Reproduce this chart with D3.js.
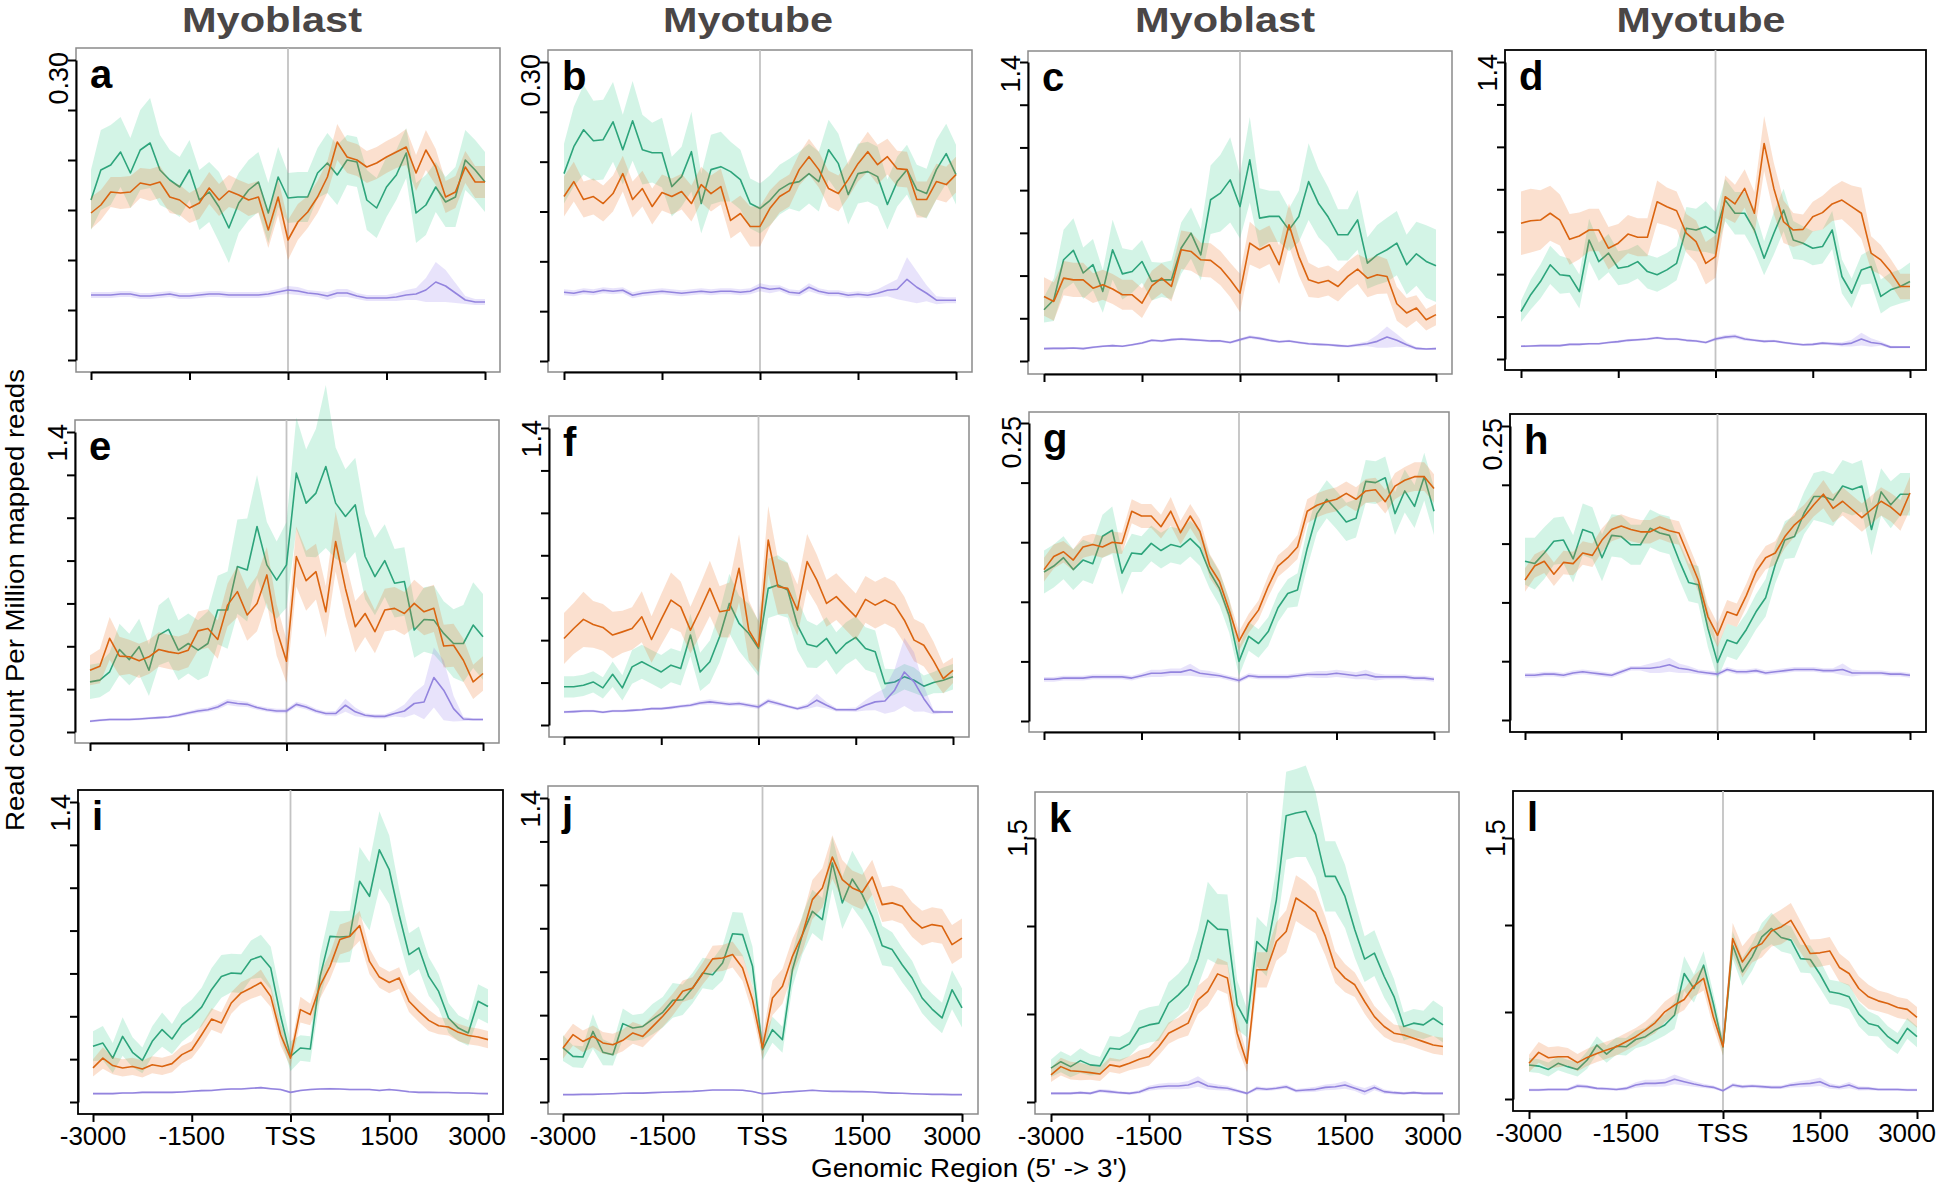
<!DOCTYPE html>
<html><head><meta charset="utf-8">
<script src="https://cdn.jsdelivr.net/npm/d3@7"></script>
<style>body{margin:0;background:#fff}svg{display:block}text{font-family:"Liberation Sans",Arial,Helvetica,sans-serif}</style>
</head><body><svg id="chart" width="1941" height="1186"></svg>
<script>
// ---------- DATA ----------
const positions = d3.range(-3000, 3001, 150); // 41 bins
const xTickValues = [-3000, -1500, 0, 1500, 3000];
const xTickLabels = ["-3000", "-1500", "TSS", "1500", "3000"];
const columnTitles = ["Myoblast", "Myotube", "Myoblast", "Myotube"];
const panelLetters = ["a","b","c","d","e","f","g","h","i","j","k","l"];
const yTopTicks = [0.30, 0.30, 1.4, 1.4, 1.4, 1.4, 0.25, 0.25, 1.4, 1.4, 1.5, 1.5];
const yTopLabels = ["0.30","0.30","1.4","1.4","1.4","1.4","0.25","0.25","1.4","1.4","1.5","1.5"];
const yTickSteps = [0.05, 0.05, 0.2, 0.2, 0.2, 0.2, 0.05, 0.05, 0.2, 0.2, 0.5, 0.5];

const a_green = [0.160,0.190,0.195,0.208,0.187,0.210,0.217,0.190,0.180,0.173,0.190,0.160,0.168,0.153,0.132,0.157,0.170,0.178,0.147,0.183,0.162,0.163,0.163,0.187,0.197,0.185,0.200,0.198,0.160,0.152,0.173,0.185,0.207,0.147,0.155,0.173,0.158,0.163,0.200,0.190,0.178];
const a_green_err = [.030,.040,.040,.035,.035,.040,.045,.035,.030,.030,.030,.030,.030,.035,.035,.030,.030,.030,.030,.030,.025,.025,.025,.025,.030,.030,.025,.025,.030,.030,.030,.025,.025,.030,.030,.025,.025,.030,.030,.030,.030];
const a_orange = [0.147,0.155,0.168,0.167,0.168,0.177,0.175,0.178,0.163,0.160,0.152,0.157,0.172,0.160,0.169,0.165,0.160,0.163,0.130,0.163,0.120,0.138,0.148,0.163,0.183,0.218,0.203,0.200,0.193,0.197,0.203,0.208,0.213,0.187,0.210,0.193,0.163,0.168,0.193,0.178,0.178];
const a_orange_err = [.016,.015,.015,.016,.016,.015,.016,.016,.016,.015,.015,.016,.016,.016,.016,.015,.016,.016,.018,.018,.020,.018,.016,.016,.016,.018,.016,.016,.016,.016,.016,.016,.018,.018,.020,.018,.016,.016,.016,.016,.016];
const a_purple = [0.065,0.065,0.065,0.066,0.066,0.064,0.064,0.065,0.066,0.064,0.064,0.065,0.066,0.066,0.065,0.065,0.065,0.065,0.066,0.068,0.070,0.069,0.067,0.066,0.064,0.067,0.067,0.064,0.062,0.062,0.062,0.063,0.065,0.066,0.070,0.078,0.074,0.067,0.060,0.058,0.058];
const a_purple_err = [.003,.003,.003,.003,.003,.003,.003,.003,.003,.003,.003,.003,.003,.003,.003,.003,.003,.003,.003,.003,.004,.004,.003,.003,.004,.004,.004,.003,.003,.003,.003,.004,.005,.006,.012,.020,.016,.010,.004,.003,.003];

const b_green = [0.188,0.215,0.232,0.221,0.222,0.240,0.212,0.241,0.212,0.209,0.209,0.175,0.185,0.210,0.158,0.192,0.195,0.190,0.182,0.158,0.153,0.161,0.172,0.178,0.180,0.188,0.180,0.212,0.198,0.167,0.188,0.190,0.185,0.157,0.180,0.192,0.172,0.168,0.192,0.208,0.187];
const b_green_err = [.030,.040,.045,.040,.040,.040,.035,.040,.035,.030,.035,.030,.030,.040,.030,.035,.035,.030,.030,.025,.025,.025,.025,.025,.030,.030,.030,.030,.030,.030,.030,.030,.030,.025,.025,.025,.025,.025,.030,.030,.030];
const b_orange = [0.165,0.180,0.162,0.165,0.158,0.168,0.188,0.162,0.173,0.155,0.169,0.165,0.170,0.158,0.177,0.168,0.175,0.141,0.148,0.135,0.135,0.153,0.165,0.171,0.192,0.205,0.192,0.173,0.168,0.182,0.198,0.210,0.197,0.205,0.193,0.192,0.162,0.162,0.180,0.177,0.187];
const b_orange_err = [.020,.020,.018,.018,.018,.018,.018,.018,.018,.018,.018,.018,.018,.018,.018,.018,.018,.018,.018,.020,.020,.018,.016,.016,.016,.018,.018,.018,.018,.018,.018,.020,.020,.018,.018,.018,.018,.018,.018,.018,.018];
const b_purple = [0.069,0.068,0.070,0.069,0.071,0.070,0.071,0.066,0.068,0.069,0.070,0.069,0.068,0.069,0.070,0.069,0.070,0.070,0.069,0.070,0.074,0.072,0.073,0.069,0.068,0.074,0.070,0.068,0.068,0.066,0.067,0.066,0.068,0.071,0.072,0.082,0.074,0.068,0.061,0.061,0.061];
const b_purple_err = [.003,.003,.003,.003,.003,.003,.003,.003,.003,.003,.003,.003,.003,.003,.003,.003,.003,.003,.003,.003,.004,.004,.003,.003,.003,.004,.003,.003,.003,.003,.003,.003,.004,.006,.010,.022,.016,.008,.004,.003,.003];

const c_green = [0.240,0.287,0.474,0.518,0.412,0.451,0.326,0.521,0.408,0.419,0.466,0.373,0.380,0.380,0.529,0.599,0.497,0.755,0.786,0.848,0.723,0.942,0.669,0.677,0.677,0.614,0.677,0.840,0.739,0.674,0.591,0.591,0.661,0.458,0.497,0.521,0.552,0.451,0.502,0.466,0.446];
const c_green_err = [.06,.10,.14,.15,.12,.12,.10,.14,.12,.10,.10,.09,.08,.09,.12,.12,.12,.16,.18,.20,.15,.20,.14,.12,.12,.10,.12,.18,.16,.14,.12,.12,.14,.12,.14,.15,.15,.14,.15,.17,.17];
const c_orange = [0.302,0.279,0.388,0.380,0.380,0.341,0.357,0.337,0.310,0.310,0.271,0.352,0.388,0.349,0.521,0.513,0.474,0.471,0.435,0.380,0.318,0.552,0.521,0.544,0.451,0.638,0.490,0.380,0.365,0.377,0.349,0.396,0.430,0.388,0.404,0.396,0.268,0.225,0.248,0.193,0.217];
const c_orange_err = [.09,.09,.08,.08,.08,.07,.07,.07,.07,.07,.07,.07,.07,.07,.09,.09,.08,.08,.08,.08,.09,.10,.09,.09,.09,.10,.09,.08,.07,.07,.07,.07,.07,.09,.09,.08,.08,.07,.06,.05,.05];
const c_purple = [0.058,0.059,0.059,0.061,0.058,0.064,0.069,0.072,0.069,0.076,0.084,0.097,0.094,0.100,0.103,0.100,0.097,0.094,0.094,0.087,0.100,0.112,0.106,0.097,0.090,0.094,0.087,0.081,0.078,0.076,0.072,0.069,0.075,0.081,0.092,0.112,0.097,0.076,0.059,0.056,0.058];
const c_purple_err = [.005,.005,.005,.005,.005,.005,.005,.005,.005,.005,.006,.006,.006,.006,.006,.006,.006,.006,.006,.006,.007,.008,.008,.007,.006,.006,.006,.006,.006,.006,.006,.006,.008,.012,.030,.050,.030,.012,.006,.005,.005];

const d_green = [0.224,0.303,0.365,0.444,0.397,0.392,0.318,0.561,0.459,0.499,0.428,0.436,0.459,0.412,0.397,0.420,0.451,0.616,0.608,0.624,0.593,0.749,0.687,0.687,0.608,0.475,0.593,0.702,0.561,0.546,0.522,0.530,0.608,0.389,0.310,0.420,0.436,0.295,0.326,0.342,0.365];
const d_green_err = [.05,.07,.08,.09,.09,.08,.08,.10,.09,.09,.08,.08,.08,.08,.08,.08,.08,.10,.10,.12,.10,.10,.10,.10,.10,.08,.10,.10,.09,.08,.08,.08,.09,.08,.07,.07,.08,.08,.08,.08,.09];
const d_orange = [0.640,0.652,0.655,0.687,0.655,0.564,0.580,0.608,0.608,0.522,0.546,0.589,0.574,0.574,0.741,0.718,0.699,0.593,0.553,0.451,0.483,0.765,0.731,0.804,0.687,1.016,0.804,0.647,0.608,0.611,0.671,0.690,0.731,0.749,0.718,0.687,0.499,0.467,0.412,0.342,0.342];
const d_orange_err = [.15,.15,.14,.13,.12,.12,.11,.10,.10,.10,.09,.09,.09,.09,.10,.09,.09,.09,.10,.10,.10,.10,.09,.09,.10,.13,.12,.10,.08,.07,.07,.08,.08,.09,.10,.12,.08,.07,.06,.06,.06];
const d_purple = [0.060,0.061,0.063,0.063,0.063,0.069,0.069,0.072,0.072,0.078,0.082,0.088,0.091,0.094,0.100,0.094,0.094,0.088,0.085,0.078,0.094,0.103,0.107,0.094,0.088,0.083,0.085,0.078,0.072,0.067,0.069,0.075,0.072,0.069,0.075,0.094,0.078,0.072,0.056,0.056,0.056];
const d_purple_err = [.005,.005,.005,.005,.005,.005,.005,.005,.005,.005,.006,.006,.006,.006,.006,.006,.006,.006,.006,.006,.008,.010,.010,.008,.006,.006,.006,.006,.006,.006,.006,.006,.008,.010,.016,.030,.020,.010,.006,.005,.005];

const e_green = [0.234,0.242,0.281,0.385,0.338,0.398,0.288,0.452,0.479,0.382,0.413,0.382,0.413,0.569,0.569,0.772,0.756,0.959,0.780,0.709,0.780,1.208,1.068,1.115,1.239,1.068,1.006,1.060,0.819,0.725,0.800,0.694,0.702,0.476,0.525,0.522,0.460,0.413,0.413,0.499,0.444];
const e_green_err = [.08,.08,.09,.12,.12,.13,.12,.14,.15,.14,.14,.14,.15,.16,.18,.22,.24,.24,.20,.18,.20,.26,.25,.30,.38,.26,.22,.22,.20,.18,.17,.16,.16,.13,.15,.16,.15,.16,.18,.20,.20];
const e_orange = [0.288,0.307,0.437,0.354,0.351,0.332,0.351,0.385,0.374,0.366,0.382,0.472,0.483,0.432,0.592,0.655,0.546,0.600,0.733,0.476,0.330,0.819,0.706,0.748,0.561,0.889,0.670,0.491,0.553,0.468,0.569,0.577,0.553,0.600,0.561,0.577,0.401,0.405,0.335,0.234,0.273];
const e_orange_err = [.07,.08,.10,.09,.08,.08,.08,.08,.08,.08,.08,.09,.09,.09,.10,.12,.12,.13,.13,.12,.10,.14,.14,.13,.12,.14,.13,.12,.11,.10,.10,.10,.10,.11,.11,.11,.10,.10,.10,.08,.08];
const e_purple = [0.050,0.055,0.058,0.058,0.058,0.061,0.064,0.067,0.070,0.078,0.089,0.098,0.104,0.117,0.140,0.133,0.129,0.114,0.104,0.098,0.098,0.129,0.117,0.098,0.086,0.086,0.125,0.094,0.078,0.073,0.073,0.086,0.098,0.133,0.140,0.254,0.195,0.109,0.061,0.058,0.058];
const e_purple_err = [.006,.006,.006,.006,.006,.006,.006,.006,.006,.008,.008,.010,.010,.012,.014,.014,.012,.010,.010,.010,.010,.012,.012,.010,.010,.012,.030,.020,.010,.010,.010,.014,.030,.050,.080,.140,.140,.060,.010,.006,.006];

const f_green = [0.180,0.180,0.187,0.203,0.175,0.239,0.175,0.274,0.298,0.274,0.250,0.282,0.266,0.424,0.250,0.298,0.416,0.573,0.479,0.431,0.361,0.644,0.660,0.636,0.471,0.381,0.369,0.408,0.337,0.384,0.413,0.361,0.345,0.195,0.203,0.227,0.211,0.183,0.200,0.211,0.227];
const f_green_err = [.05,.05,.05,.05,.05,.06,.06,.08,.08,.08,.08,.08,.08,.10,.09,.10,.12,.14,.13,.14,.13,.14,.14,.13,.12,.11,.10,.10,.10,.10,.10,.10,.10,.07,.06,.06,.06,.05,.05,.06,.06];
const f_orange = [0.408,0.455,0.498,0.474,0.460,0.424,0.439,0.455,0.510,0.403,0.498,0.589,0.557,0.447,0.542,0.644,0.534,0.542,0.739,0.447,0.369,0.872,0.652,0.644,0.542,0.770,0.683,0.573,0.605,0.557,0.510,0.592,0.565,0.589,0.565,0.494,0.400,0.376,0.302,0.219,0.258];
const f_orange_err = [.12,.12,.13,.11,.11,.11,.10,.10,.12,.11,.12,.13,.12,.11,.12,.13,.12,.13,.16,.14,.12,.16,.13,.12,.12,.13,.12,.11,.11,.11,.11,.11,.11,.11,.11,.11,.10,.10,.09,.07,.06];
const f_purple = [0.061,0.063,0.066,0.066,0.060,0.066,0.066,0.069,0.072,0.077,0.077,0.082,0.088,0.093,0.104,0.109,0.104,0.098,0.101,0.093,0.085,0.113,0.101,0.088,0.077,0.088,0.117,0.093,0.072,0.072,0.072,0.093,0.109,0.113,0.164,0.250,0.203,0.124,0.061,0.061,0.061];
const f_purple_err = [.006,.006,.006,.006,.006,.006,.006,.006,.006,.006,.006,.008,.008,.008,.010,.012,.010,.010,.010,.010,.010,.012,.010,.008,.008,.012,.030,.015,.008,.008,.010,.025,.040,.060,.100,.160,.140,.060,.010,.006,.006];

const g_green = [0.125,0.130,0.137,0.127,0.135,0.132,0.155,0.160,0.124,0.141,0.140,0.149,0.143,0.148,0.146,0.153,0.145,0.125,0.111,0.088,0.050,0.071,0.065,0.075,0.095,0.107,0.110,0.145,0.174,0.186,0.177,0.167,0.170,0.201,0.200,0.204,0.174,0.193,0.180,0.205,0.176];
const g_green_err = [.018,.018,.018,.017,.017,.017,.018,.020,.018,.016,.015,.015,.015,.015,.015,.015,.015,.014,.014,.014,.012,.012,.012,.012,.012,.012,.014,.016,.016,.016,.016,.016,.016,.018,.018,.018,.018,.018,.018,.020,.020];
const g_orange = [0.127,0.138,0.142,0.135,0.146,0.148,0.146,0.150,0.149,0.176,0.172,0.172,0.163,0.176,0.158,0.172,0.159,0.130,0.117,0.093,0.067,0.082,0.093,0.113,0.130,0.137,0.146,0.176,0.181,0.184,0.186,0.191,0.186,0.193,0.194,0.184,0.197,0.202,0.205,0.205,0.195];
const g_orange_err = [.010,.010,.009,.009,.009,.009,.009,.009,.009,.010,.010,.010,.010,.012,.010,.010,.010,.010,.009,.009,.008,.008,.008,.009,.009,.009,.010,.010,.010,.010,.010,.010,.010,.010,.010,.010,.011,.011,.012,.012,.012];
const g_purple = [0.035,0.035,0.036,0.036,0.036,0.037,0.037,0.037,0.037,0.036,0.038,0.040,0.040,0.041,0.041,0.043,0.040,0.039,0.038,0.036,0.034,0.038,0.037,0.037,0.037,0.037,0.038,0.039,0.039,0.039,0.040,0.039,0.038,0.039,0.037,0.037,0.037,0.037,0.036,0.036,0.035];
const g_purple_err = [.002,.002,.002,.002,.002,.002,.002,.002,.002,.002,.002,.003,.003,.003,.003,.005,.003,.003,.002,.002,.002,.002,.002,.002,.002,.002,.002,.002,.003,.003,.003,.003,.003,.004,.003,.002,.002,.002,.002,.002,.002];

const h_green = [0.135,0.133,0.142,0.152,0.153,0.137,0.162,0.159,0.138,0.157,0.156,0.149,0.149,0.163,0.159,0.157,0.136,0.117,0.115,0.078,0.049,0.068,0.065,0.077,0.092,0.104,0.132,0.153,0.156,0.176,0.190,0.190,0.187,0.199,0.196,0.199,0.162,0.194,0.183,0.192,0.192];
const h_green_err = [.020,.022,.022,.020,.020,.020,.022,.022,.020,.018,.018,.017,.017,.016,.016,.016,.016,.016,.016,.016,.014,.014,.014,.014,.015,.016,.016,.016,.018,.018,.020,.022,.022,.022,.022,.022,.022,.020,.020,.018,.018];
const h_orange = [0.119,0.131,0.135,0.124,0.134,0.133,0.142,0.140,0.153,0.162,0.165,0.162,0.160,0.160,0.164,0.161,0.159,0.139,0.119,0.088,0.072,0.092,0.089,0.106,0.126,0.138,0.142,0.156,0.166,0.173,0.183,0.192,0.180,0.186,0.179,0.172,0.179,0.186,0.181,0.174,0.193];
const h_orange_err = [.010,.010,.010,.010,.010,.010,.010,.010,.010,.010,.010,.010,.010,.010,.010,.010,.010,.010,.010,.010,.010,.010,.010,.010,.010,.010,.010,.010,.010,.010,.010,.012,.012,.012,.012,.012,.012,.012,.012,.013,.014];
const h_purple = [0.038,0.038,0.039,0.039,0.038,0.040,0.041,0.040,0.039,0.038,0.041,0.044,0.044,0.044,0.045,0.047,0.044,0.043,0.041,0.040,0.039,0.043,0.041,0.041,0.042,0.040,0.041,0.042,0.043,0.043,0.043,0.042,0.042,0.043,0.040,0.040,0.040,0.040,0.039,0.039,0.038];
const h_purple_err = [.002,.002,.002,.002,.002,.002,.002,.002,.002,.002,.002,.002,.002,.004,.005,.006,.004,.003,.002,.002,.002,.002,.002,.002,.002,.002,.002,.002,.002,.002,.002,.002,.002,.005,.003,.002,.002,.002,.002,.002,.002];

const i_green = [0.260,0.275,0.205,0.306,0.232,0.194,0.283,0.338,0.294,0.361,0.397,0.443,0.524,0.586,0.602,0.599,0.664,0.680,0.625,0.400,0.213,0.252,0.247,0.586,0.773,0.770,0.773,1.030,0.960,1.177,1.084,0.874,0.688,0.719,0.586,0.516,0.392,0.345,0.322,0.470,0.446];
const i_green_err = [.07,.08,.07,.09,.07,.06,.07,.08,.07,.08,.08,.09,.10,.10,.09,.09,.09,.10,.10,.10,.07,.06,.06,.10,.12,.12,.12,.16,.16,.18,.16,.12,.10,.10,.09,.08,.07,.06,.06,.08,.08];
const i_orange = [0.159,0.205,0.170,0.159,0.166,0.154,0.174,0.166,0.179,0.221,0.244,0.314,0.387,0.369,0.462,0.509,0.532,0.558,0.493,0.314,0.205,0.431,0.408,0.543,0.633,0.758,0.773,0.823,0.656,0.583,0.558,0.579,0.470,0.423,0.381,0.356,0.350,0.325,0.310,0.303,0.291];
const i_orange_err = [.04,.05,.04,.04,.04,.04,.04,.04,.04,.04,.04,.05,.05,.05,.05,.05,.05,.06,.05,.05,.04,.06,.05,.06,.06,.07,.07,.07,.06,.05,.05,.05,.05,.05,.05,.04,.04,.04,.04,.04,.04];
const i_purple = [0.039,0.039,0.039,0.042,0.042,0.045,0.045,0.045,0.045,0.047,0.050,0.053,0.054,0.058,0.061,0.061,0.064,0.067,0.062,0.058,0.045,0.054,0.058,0.061,0.062,0.061,0.058,0.058,0.058,0.054,0.058,0.054,0.048,0.045,0.045,0.044,0.044,0.042,0.042,0.040,0.039];
const i_purple_err = [.004,.004,.004,.004,.004,.004,.004,.004,.004,.004,.004,.004,.004,.004,.004,.004,.004,.004,.004,.004,.004,.004,.004,.004,.004,.004,.004,.004,.004,.004,.004,.004,.004,.004,.004,.004,.004,.004,.004,.004,.004];

const j_green = [0.249,0.210,0.207,0.325,0.229,0.218,0.361,0.341,0.348,0.382,0.413,0.468,0.471,0.525,0.594,0.586,0.640,0.775,0.771,0.625,0.241,0.333,0.287,0.609,0.771,0.878,0.840,1.101,0.917,1.027,0.955,0.855,0.720,0.702,0.632,0.571,0.479,0.428,0.387,0.517,0.433];
const j_green_err = [.06,.05,.05,.08,.06,.05,.07,.06,.06,.07,.07,.08,.07,.07,.07,.07,.08,.10,.10,.09,.05,.06,.06,.08,.09,.10,.10,.12,.12,.13,.12,.10,.09,.08,.08,.08,.07,.07,.07,.09,.09];
const j_orange = [0.249,0.310,0.279,0.302,0.272,0.264,0.284,0.318,0.302,0.348,0.395,0.448,0.510,0.525,0.591,0.659,0.663,0.679,0.617,0.471,0.249,0.479,0.533,0.671,0.771,0.932,0.986,1.128,1.024,0.986,0.966,1.036,0.909,0.917,0.901,0.840,0.801,0.817,0.809,0.725,0.755];
const j_orange_err = [.05,.05,.05,.05,.05,.05,.05,.05,.05,.05,.05,.05,.05,.05,.05,.06,.06,.06,.06,.06,.05,.08,.08,.08,.08,.09,.09,.10,.09,.08,.08,.08,.08,.08,.08,.08,.08,.08,.08,.09,.09];
const j_purple = [0.034,0.034,0.035,0.035,0.037,0.038,0.040,0.041,0.041,0.043,0.045,0.046,0.048,0.049,0.052,0.055,0.055,0.055,0.054,0.048,0.038,0.041,0.045,0.048,0.051,0.054,0.051,0.049,0.049,0.048,0.048,0.046,0.043,0.041,0.040,0.038,0.037,0.035,0.035,0.034,0.034];
const j_purple_err = [.003,.003,.003,.003,.003,.003,.003,.003,.003,.003,.003,.003,.003,.003,.003,.003,.003,.003,.003,.003,.003,.003,.003,.003,.003,.003,.003,.003,.003,.003,.003,.003,.003,.003,.003,.003,.003,.003,.003,.003,.003];

const k_green = [0.192,0.229,0.201,0.235,0.211,0.205,0.305,0.300,0.330,0.419,0.438,0.448,0.561,0.609,0.666,0.817,1.032,0.982,0.979,0.552,0.448,0.912,0.855,1.149,1.627,1.642,1.652,1.519,1.282,1.282,1.168,0.979,0.812,0.846,0.713,0.599,0.429,0.448,0.438,0.476,0.438];
const k_green_err = [.05,.06,.06,.07,.06,.05,.07,.07,.07,.10,.10,.10,.12,.12,.13,.16,.22,.20,.20,.14,.08,.14,.14,.18,.25,.25,.26,.24,.20,.20,.18,.16,.13,.13,.12,.10,.08,.08,.08,.10,.10];
const k_orange = [0.154,0.201,0.178,0.173,0.167,0.159,0.211,0.201,0.220,0.243,0.258,0.315,0.391,0.419,0.448,0.580,0.628,0.728,0.704,0.391,0.220,0.751,0.751,0.912,0.969,1.159,1.121,1.077,0.941,0.766,0.704,0.666,0.571,0.485,0.429,0.391,0.381,0.362,0.343,0.324,0.315];
const k_orange_err = [.04,.05,.05,.05,.04,.04,.04,.04,.04,.05,.05,.05,.06,.06,.07,.08,.08,.09,.09,.08,.05,.10,.10,.11,.12,.13,.13,.12,.11,.09,.08,.07,.07,.06,.06,.05,.05,.05,.05,.05,.05];
const k_purple = [0.049,0.049,0.049,0.053,0.049,0.064,0.059,0.053,0.049,0.057,0.078,0.087,0.091,0.091,0.097,0.116,0.091,0.083,0.078,0.064,0.049,0.078,0.072,0.078,0.087,0.064,0.068,0.072,0.083,0.087,0.097,0.078,0.059,0.083,0.059,0.053,0.049,0.053,0.049,0.049,0.049];
const k_purple_err = [.008,.008,.008,.008,.008,.010,.010,.008,.008,.010,.014,.016,.018,.018,.022,.030,.020,.016,.014,.010,.008,.012,.010,.010,.012,.010,.012,.014,.016,.018,.022,.016,.020,.016,.012,.010,.008,.008,.008,.008,.008];

const l_green = [0.195,0.189,0.170,0.205,0.186,0.170,0.224,0.310,0.258,0.304,0.300,0.342,0.358,0.396,0.425,0.482,0.721,0.635,0.769,0.549,0.300,0.884,0.731,0.817,0.932,0.980,0.928,0.913,0.807,0.802,0.717,0.616,0.606,0.587,0.488,0.434,0.419,0.358,0.319,0.406,0.358];
const l_green_err = [.04,.04,.04,.04,.04,.04,.05,.05,.05,.05,.05,.05,.05,.06,.06,.08,.10,.08,.08,.06,.05,.08,.08,.08,.08,.09,.08,.08,.08,.08,.08,.07,.07,.07,.07,.07,.06,.06,.06,.06,.06];
const l_orange = [0.205,0.268,0.237,0.243,0.243,0.209,0.239,0.262,0.281,0.300,0.329,0.358,0.396,0.438,0.501,0.540,0.572,0.649,0.693,0.473,0.300,0.922,0.788,0.865,0.893,0.966,0.989,1.027,0.932,0.836,0.840,0.851,0.756,0.721,0.635,0.587,0.564,0.549,0.526,0.515,0.469];
const l_orange_err = [.05,.06,.06,.06,.05,.05,.05,.05,.05,.05,.05,.05,.05,.06,.06,.06,.06,.06,.07,.06,.05,.09,.09,.08,.08,.09,.10,.10,.09,.08,.08,.08,.08,.07,.07,.07,.06,.06,.06,.06,.06];
const l_purple = [0.052,0.052,0.055,0.055,0.055,0.075,0.071,0.061,0.059,0.055,0.061,0.080,0.090,0.090,0.094,0.113,0.099,0.086,0.075,0.067,0.048,0.080,0.071,0.075,0.071,0.067,0.067,0.080,0.086,0.090,0.099,0.075,0.067,0.080,0.061,0.061,0.055,0.055,0.055,0.052,0.052];
const l_purple_err = [.008,.008,.008,.008,.008,.012,.010,.008,.008,.008,.010,.016,.020,.020,.022,.028,.022,.016,.012,.010,.008,.012,.010,.010,.010,.010,.010,.014,.018,.020,.024,.016,.012,.018,.012,.010,.008,.008,.008,.008,.008];

const seriesByPanel = [
  [[a_green,a_green_err],[a_orange,a_orange_err],[a_purple,a_purple_err]],
  [[b_green,b_green_err],[b_orange,b_orange_err],[b_purple,b_purple_err]],
  [[c_green,c_green_err],[c_orange,c_orange_err],[c_purple,c_purple_err]],
  [[d_green,d_green_err],[d_orange,d_orange_err],[d_purple,d_purple_err]],
  [[e_green,e_green_err],[e_orange,e_orange_err],[e_purple,e_purple_err]],
  [[f_green,f_green_err],[f_orange,f_orange_err],[f_purple,f_purple_err]],
  [[g_green,g_green_err],[g_orange,g_orange_err],[g_purple,g_purple_err]],
  [[h_green,h_green_err],[h_orange,h_orange_err],[h_purple,h_purple_err]],
  [[i_green,i_green_err],[i_orange,i_orange_err],[i_purple,i_purple_err]],
  [[j_green,j_green_err],[j_orange,j_orange_err],[j_purple,j_purple_err]],
  [[k_green,k_green_err],[k_orange,k_orange_err],[k_purple,k_purple_err]],
  [[l_green,l_green_err],[l_orange,l_orange_err],[l_purple,l_purple_err]]
];

// ---------- LAYOUT (pixels) ----------
const layout = [
  {box:[76,48,500,372],   xr:[91,485],    yr:[360,60],   border:"#8a8a8a"},
  {box:[548,50,972,372],  xr:[564,956],   yr:[361,62],   border:"#8a8a8a"},
  {box:[1028,51,1452,374],xr:[1044,1436], yr:[361,62],   border:"#8a8a8a"},
  {box:[1505,50,1926,370],xr:[1521,1910], yr:[359,62],   border:"#000"},
  {box:[75,420,499,743],  xr:[90,483],    yr:[732,432],  border:"#8a8a8a"},
  {box:[549,416,969,737], xr:[564,953],   yr:[725,428],  border:"#8a8a8a"},
  {box:[1029,412,1449,732],xr:[1044,1434],yr:[721,423],  border:"#8a8a8a"},
  {box:[1510,414,1926,732],xr:[1525,1910],yr:[720,426],  border:"#000"},
  {box:[78,790,503,1114], xr:[93,488],    yr:[1102,802], border:"#000"},
  {box:[548,786,978,1114],xr:[563,962],   yr:[1102,798], border:"#8a8a8a"},
  {box:[1035,792,1459,1114],xr:[1051,1443],yr:[1102,838],border:"#8a8a8a"},
  {box:[1513,791,1933,1111],xr:[1529,1917],yr:[1099,838],border:"#000"}
];
const titlePos = [{x:272,w:180},{x:748,w:170},{x:1225,w:180},{x:1701,w:169}];

const COLORS = [
  {line:"#2da47b", band:"rgba(55,205,140,0.22)"},
  {line:"#da6410", band:"rgba(235,115,35,0.22)"},
  {line:"#9384de", band:"rgba(120,90,230,0.17)"}
];

// ---------- DRAW ----------
const svg = d3.select("#chart");
svg.append("rect").attr("width",1941).attr("height",1186).attr("fill","#fff");

layout.forEach((L, pi) => {
  const [bx0, by0, bx1, by1] = L.box;
  const x = d3.scaleLinear().domain([-3000, 3000]).range(L.xr);
  const y = d3.scaleLinear().domain([0, yTopTicks[pi]]).range(L.yr);
  const g = svg.append("g");

  g.append("rect").attr("x", bx0).attr("y", by0).attr("width", bx1 - bx0).attr("height", by1 - by0)
    .attr("fill", "none").attr("stroke", L.border).attr("stroke-width", L.border === "#000" ? 1.8 : 1.5);

  g.append("line").attr("x1", x(0)).attr("x2", x(0)).attr("y1", by0).attr("y2", by1)
    .attr("stroke", "#c3c3c3").attr("stroke-width", 1.8);

  seriesByPanel[pi].forEach((s, k) => {
    const pts = s[0].map((v, i) => ({p: positions[i], v: v, e: s[1][i]}));
    g.append("path").datum(pts)
      .attr("d", d3.area().x(d => x(d.p)).y0(d => y(d.v - d.e)).y1(d => y(d.v + d.e)))
      .attr("fill", COLORS[k].band).attr("stroke", "none");
    g.append("path").datum(pts)
      .attr("d", d3.line().x(d => x(d.p)).y(d => y(d.v)))
      .attr("fill", "none").attr("stroke", COLORS[k].line).attr("stroke-width", 1.6)
      .attr("stroke-linejoin", "round");
  });

  // y axis
  const step = yTickSteps[pi];
  const yt = d3.range(0, yTopTicks[pi] + step / 2, step);
  const ya = g.append("g").attr("transform", `translate(${bx0},0)`)
    .call(d3.axisLeft(y).tickValues(yt).tickSize(8).tickSizeOuter(0).tickFormat(""));
  ya.select(".domain").attr("stroke", "#000").attr("stroke-width", 2);
  ya.selectAll(".tick line").attr("stroke", "#000").attr("stroke-width", 2);
  const yl = g.append("text").text(yTopLabels[pi]).attr("font-size", 27).attr("text-anchor", "middle").attr("fill", "#000");
  const ylen = yl.node().getComputedTextLength();
  const cy = Math.max(y(yTopTicks[pi]), by0 + ylen / 2 + 4);
  yl.attr("transform", `translate(${bx0 - 8},${cy}) rotate(-90)`);

  // x axis
  const xa = g.append("g").attr("transform", `translate(0,${by1})`)
    .call(d3.axisBottom(x).tickValues(xTickValues).tickSize(8).tickSizeOuter(0).tickFormat(""));
  xa.select(".domain").attr("stroke", "#000").attr("stroke-width", 2.2);
  xa.selectAll(".tick line").attr("stroke", "#000").attr("stroke-width", 2);

  if (pi >= 8) {
    xTickValues.forEach((v, ti) => {
      const t = g.append("text").text(xTickLabels[ti]).attr("font-size", 26)
        .attr("text-anchor", "middle").attr("x", x(v)).attr("y", by1 + 31).attr("fill", "#000");
      const w = t.node().getComputedTextLength();
      if (x(v) + w / 2 > bx1 + 3) t.attr("x", bx1 + 3 - w / 2);
    });
  }

  // panel letter
  g.append("text").text(panelLetters[pi]).attr("x", bx0 + 14).attr("y", by0 + 40)
    .attr("font-size", 40).attr("font-weight", "bold").attr("fill", "#000");
});

// column titles
columnTitles.forEach((t, i) => {
  svg.append("text").text(t).attr("x", titlePos[i].x).attr("y", 32)
    .attr("text-anchor", "middle").attr("font-size", 35).attr("font-weight", "bold")
    .attr("fill", "#4a4646").attr("textLength", titlePos[i].w).attr("lengthAdjust", "spacingAndGlyphs");
});

// axis titles
svg.append("text").text("Read count Per Million mapped reads")
  .attr("transform", "translate(24,600) rotate(-90)").attr("text-anchor", "middle")
  .attr("font-size", 25).attr("textLength", 462).attr("lengthAdjust", "spacingAndGlyphs").attr("fill", "#000");
svg.append("text").text("Genomic Region (5' -> 3')")
  .attr("x", 969).attr("y", 1177).attr("text-anchor", "middle")
  .attr("font-size", 25).attr("textLength", 316).attr("lengthAdjust", "spacingAndGlyphs").attr("fill", "#000");
</script>
</body></html>
